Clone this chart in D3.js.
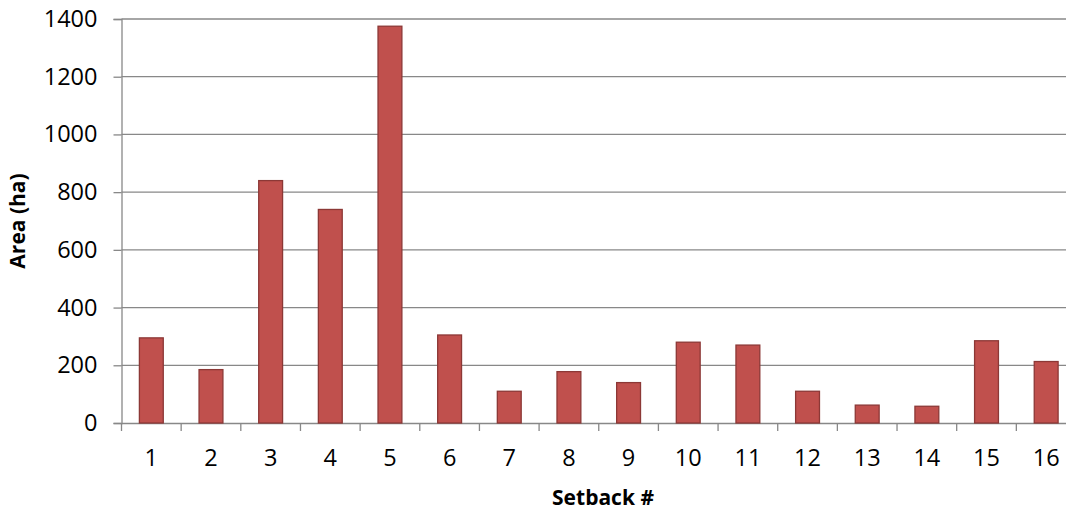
<!DOCTYPE html>
<html>
  <head>
    <style>
      body { margin: 0; background: white; }
      .tick text { font-family: "Open Sans", sans-serif; font-size: 23.5px; fill: #000; }
      .title { font-family: "Open Sans", sans-serif; font-size: 21px; font-weight: bold; fill: #000; }
    </style>
  </head>
  <body>
    <script src="https://d3js.org/d3.v7.min.js"></script>
    <script>
    var setbacks = ["1","2","3","4","5","6","7","8","9","10","11","12","13","14","15","16"];
    var areas = [295, 185, 840, 740, 1375, 305, 110, 178, 140, 280, 270, 110, 62, 58, 285, 213];
    var yTicks = [0, 200, 400, 600, 800, 1000, 1200, 1400];

    var width = 1066, height = 510;
    var marginLeft = 121.5, marginTop = 19, plotW = 954.5, plotH = 404;

    var svg = d3.select("body").append("svg")
        .attr("width", width)
        .attr("height", height);

    var x = d3.scaleBand().domain(setbacks).range([0, plotW]).paddingInner(0.6).paddingOuter(0.3);
    var y = d3.scaleLinear().domain([0, 1400]).range([plotH, 0]);

    var g = svg.append("g").attr("transform", "translate(" + marginLeft + "," + marginTop + ")");

    // gridlines
    g.append("g").selectAll("line")
      .data(yTicks.slice(1))
      .enter().append("line")
        .attr("x1", 0).attr("x2", plotW)
        .attr("y1", function(d){ return y(d); })
        .attr("y2", function(d){ return y(d); })
        .attr("stroke", "#888").attr("stroke-width", 1.3);

    // y axis
    var yAxis = g.append("g")
        .call(d3.axisLeft(y).tickValues(yTicks).tickSize(8).tickPadding(16).tickFormat(d3.format("d")));
    yAxis.select(".domain").attr("stroke", "#888").attr("stroke-width", 1.3);
    yAxis.selectAll(".tick line").attr("stroke", "#888").attr("stroke-width", 1.3);

    // x axis with ticks at category boundaries
    var xAxis = g.append("g").attr("transform", "translate(0," + plotH + ")")
        .call(d3.axisBottom(x).tickSize(0).tickPadding(26));
    xAxis.select(".domain").attr("stroke", "#888").attr("stroke-width", 1.3);
    var step = x.step();
    xAxis.selectAll(".bound")
      .data(d3.range(setbacks.length + 1))
      .enter().append("line")
        .attr("class", "bound")
        .attr("x1", function(i){ return i * step; })
        .attr("x2", function(i){ return i * step; })
        .attr("y1", 0).attr("y2", 8)
        .attr("stroke", "#888").attr("stroke-width", 1.3);

    // bars
    g.append("g").selectAll("rect")
      .data(areas)
      .enter().append("rect")
        .attr("x", function(d, i){ return x(setbacks[i]); })
        .attr("y", function(d){ return y(d); })
        .attr("width", x.bandwidth())
        .attr("height", function(d){ return plotH - y(d); })
        .attr("fill", "#c0504d")
        .attr("stroke", "#8c3836")
        .attr("stroke-width", 1.3);

    svg.append("text").attr("class", "title")
        .attr("x", 603).attr("y", 505)
        .attr("text-anchor", "middle")
        .text("Setback #");

    svg.append("text").attr("class", "title")
        .attr("transform", "translate(25," + (marginTop + plotH / 2) + ") rotate(-90)")
        .attr("text-anchor", "middle")
        .text("Area (ha)");
    </script>
  </body>
</html>
